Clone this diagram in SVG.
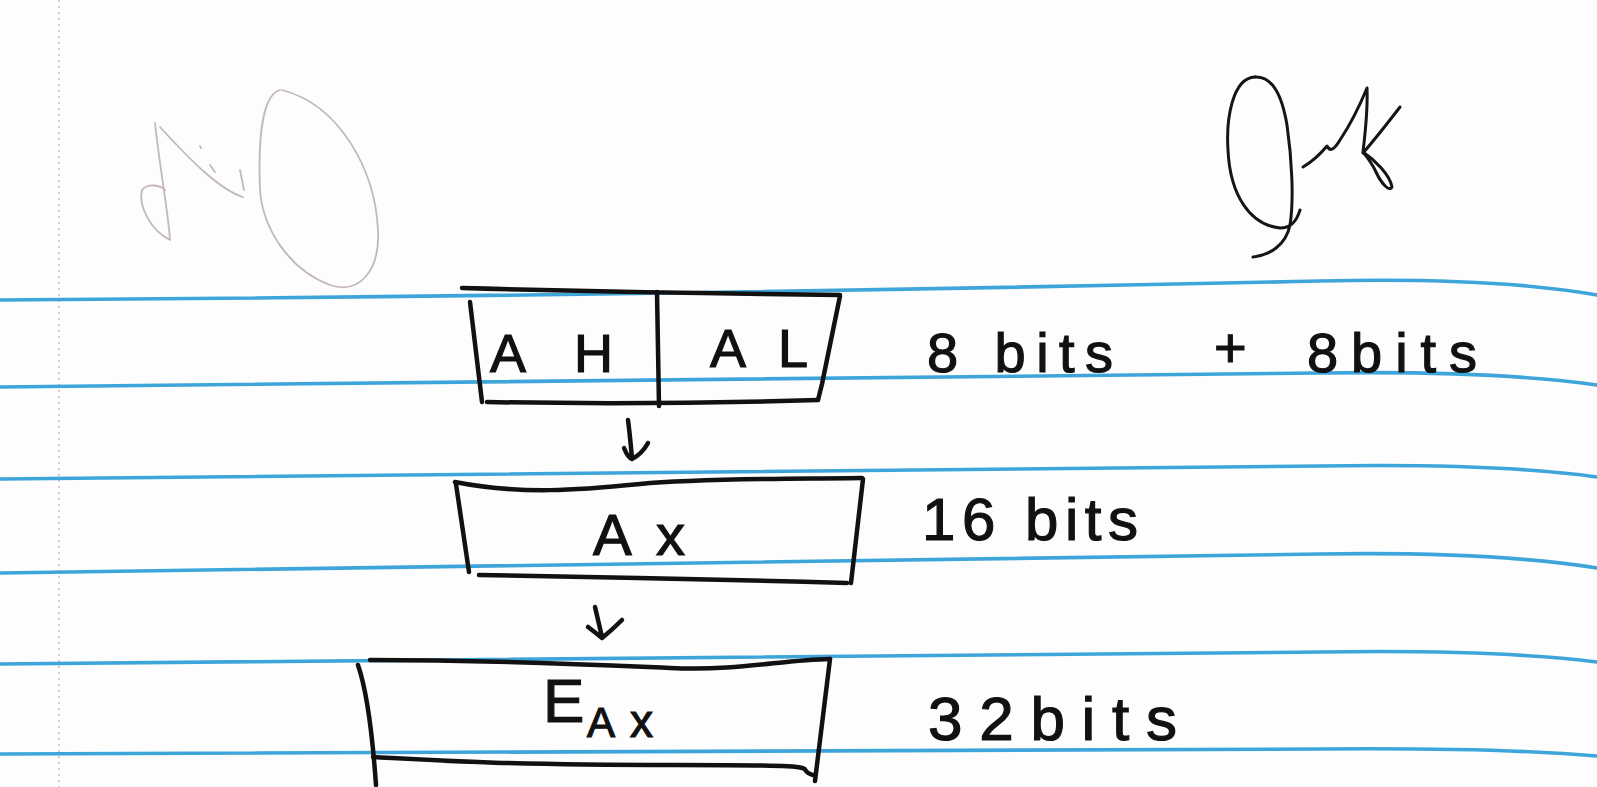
<svg xmlns="http://www.w3.org/2000/svg" width="1597" height="787" viewBox="0 0 1597 787">
<style>
.paper{fill:#fdfdfd}
.rule{fill:none;stroke:#2e9dd8;stroke-width:3.6;stroke-linecap:round;opacity:.92}
.margin{fill:none;stroke:#d7aab6;stroke-width:1.3;stroke-dasharray:2 4}
.ink{fill:none;stroke:#111;stroke-width:4.5;stroke-linecap:round;stroke-linejoin:round}
.sig{fill:none;stroke:#151515;stroke-width:3;stroke-linecap:round;stroke-linejoin:round}
.faint{fill:none;stroke:#c4b6c1;stroke-width:1.8;stroke-linecap:round;stroke-linejoin:round}
.hand{font-family:"Liberation Sans","DejaVu Sans",sans-serif;fill:#111;stroke:#111;stroke-width:1.2}
</style>
<rect class="paper" x="0" y="0" width="1597" height="787"/>
<g id="paper-lines">
<path class="margin" d="M59,0 L59,787"/>
<path class="rule" d="M0,300 C500,297 1000,288 1320,281 C1450,278 1540,285 1597,295"/>
<path class="rule" d="M0,387 C500,385 1000,378 1320,373 C1450,371 1540,377 1597,385"/>
<path class="rule" d="M0,479 C500,477 1000,470 1320,466 C1450,464 1540,469 1597,477"/>
<path class="rule" d="M0,573 C500,568 1000,560 1320,554 C1450,552 1540,559 1597,568"/>
<path class="rule" d="M0,664 C500,662 1000,657 1320,652 C1450,650 1540,655 1597,662"/>
<path class="rule" d="M0,754 C500,754 1000,752 1320,749 C1450,748 1540,751 1597,756"/>
</g>
<g id="signature-left">
<path class="faint" d="M280,90 C262,95 258,140 260,190 C263,230 290,270 330,285 C360,295 380,270 378,230 C375,170 340,105 282,90"/>
<path class="faint" d="M155,123 C160,170 168,210 170,240 C150,230 138,205 142,190 C148,183 160,185 165,190"/>
<path class="faint" d="M160,127 C190,160 220,190 243,197"/>
<path class="faint" d="M200,146 L201,148 M210,165 L215,172 M240,170 L244,190"/>
</g>
<g id="signature-right">
<path class="sig" d="M1255,77 C1232,78 1226,120 1228,150 C1230,195 1250,225 1280,228 C1292,228 1297,220 1300,210"/>
<path class="sig" d="M1255,77 C1272,76 1282,95 1287,125 C1292,160 1294,200 1290,225 C1286,245 1270,255 1253,257"/>
<path class="sig" d="M1303,167 C1315,160 1322,152 1327,146 C1330,152 1334,150 1340,140 C1350,125 1360,105 1367,88 C1368,110 1365,135 1363,152 C1375,160 1390,175 1392,187 C1390,192 1382,185 1376,172 C1372,163 1367,157 1363,152"/>
<path class="sig" d="M1400,107 C1390,120 1376,138 1363,153"/>
</g>
<g id="node-ah-al">
<path class="ink" d="M462,288 Q650,293 840,295"/>
<path class="ink" d="M470,302 L482,402"/>
<path class="ink" d="M840,296 L822,384 L818,400"/>
<path class="ink" d="M487,402 Q650,405 818,400"/>
<path class="ink" d="M657,292 L659,406"/>
<text class="hand" x="490" y="372" font-size="54" textLength="123" lengthAdjust="spacing">AH</text>
<text class="hand" x="710" y="367" font-size="54" textLength="98" lengthAdjust="spacing">AL</text>
</g>
<g id="node-ax">
<path class="ink" d="M455,482 C520,495 580,490 640,484 S800,479 862,478"/>
<path class="ink" d="M456,484 L469,572"/>
<path class="ink" d="M863,479 L851,583"/>
<path class="ink" d="M479,575 Q660,578 847,583"/>
<text class="hand" x="593" y="555" font-size="58" textLength="92" lengthAdjust="spacing">Ax</text>
</g>
<g id="node-eax">
<path class="ink" d="M370,660 C500,660 600,665 670,668 S780,660 830,659"/>
<path class="ink" d="M358,665 Q370,700 376,785"/>
<path class="ink" d="M373,757 C430,760 500,765 673,765 S790,768 813,775"/>
<path class="ink" d="M830,659 L815,781"/>
<text class="hand"><tspan x="543" y="722" font-size="62">E</tspan><tspan x="587" y="737" font-size="42">A</tspan><tspan x="630" y="737" font-size="46">x</tspan></text>
</g>
<g id="labels">
<text class="hand" x="927" y="372" font-size="56" textLength="186" lengthAdjust="spacing">8 bits</text>
<text class="hand" x="1214" y="367" font-size="56" textLength="33" lengthAdjust="spacing">+</text>
<text class="hand" x="1307" y="372" font-size="56" textLength="170" lengthAdjust="spacing">8bits</text>
<text class="hand" x="922" y="540" font-size="60" textLength="216" lengthAdjust="spacing">16 bits</text>
<text class="hand" x="928" y="740" font-size="62" textLength="249" lengthAdjust="spacing">32bits</text>
</g>
<g id="connectors">
<path class="ink" d="M628,420 C630,435 631,448 632,458 M624,448 Q628,458 632,459 Q642,454 648,443"/>
<path class="ink" d="M595,607 L602,637 M588,627 Q596,633 602,638 Q612,630 622,620"/>
</g>
</svg>
